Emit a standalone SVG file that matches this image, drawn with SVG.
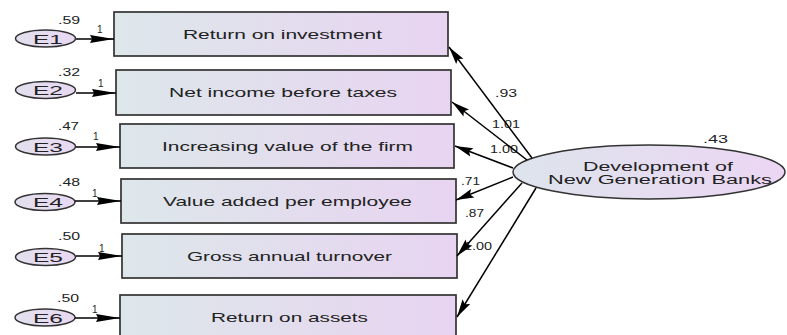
<svg xmlns="http://www.w3.org/2000/svg" width="787" height="335" viewBox="0 0 787 335">
  <defs>
    <linearGradient id="boxFill" x1="0" y1="0" x2="1" y2="0">
      <stop offset="0" stop-color="#dde7ea"/>
      <stop offset="1" stop-color="#e8d4f1"/>
    </linearGradient>
    <linearGradient id="latentFill" x1="0" y1="0" x2="1" y2="0">
      <stop offset="0" stop-color="#dde4ec"/>
      <stop offset="1" stop-color="#ecd6f3"/>
    </linearGradient>
    <linearGradient id="errFill" x1="0" y1="0" x2="1" y2="0">
      <stop offset="0" stop-color="#e2e0ee"/>
      <stop offset="1" stop-color="#e9d8f2"/>
    </linearGradient>
    <marker id="headErr" markerUnits="userSpaceOnUse" markerWidth="24" markerHeight="9" refX="24" refY="4.5" orient="auto" overflow="visible">
      <path d="M0,0.5 L24,4.5 L0,8.5 L2,4.5 Z" fill="#000"/>
    </marker>
    <marker id="headLoad" markerUnits="userSpaceOnUse" markerWidth="18" markerHeight="9" refX="18" refY="4.5" orient="auto" overflow="visible">
      <path d="M0,0 L18,4.5 L0,9 L3,4.5 Z" fill="#000"/>
    </marker>
  </defs>
  <style>
    .box { fill: url(#boxFill); stroke: #333; stroke-width: 1.7; }
    .err { fill: url(#errFill); stroke: #333; stroke-width: 1.5; }
    .latent { fill: url(#latentFill); stroke: #333; stroke-width: 1.5; }
    .lbl { font-family: "Liberation Sans", Arial, sans-serif; fill: #222; }
    .name { font-size: 13px; }
    .num { font-size: 10px; }
    .link { stroke: #000; stroke-width: 1.5; fill: none; }
    .errlink { marker-end: url(#headErr); }
    .loadlink { marker-end: url(#headLoad); }
  </style>

  <rect width="787" height="335" fill="#fff"/>

  <!-- observed indicators -->
  <g id="roi">
    <rect class="box" x="114" y="12" width="334" height="44"/>
    <text class="lbl name" x="183" y="39" textLength="199" lengthAdjust="spacingAndGlyphs">Return on investment</text>
  </g>
  <g id="net-income">
    <rect class="box" x="116" y="70" width="335" height="45"/>
    <text class="lbl name" x="169" y="97" textLength="228" lengthAdjust="spacingAndGlyphs">Net income before taxes</text>
  </g>
  <g id="firm-value">
    <rect class="box" x="120" y="124" width="334" height="44"/>
    <text class="lbl name" x="162" y="151" textLength="251" lengthAdjust="spacingAndGlyphs">Increasing value of the firm</text>
  </g>
  <g id="value-added">
    <rect class="box" x="121" y="179" width="335" height="44"/>
    <text class="lbl name" x="163" y="206" textLength="249" lengthAdjust="spacingAndGlyphs">Value added per employee</text>
  </g>
  <g id="turnover">
    <rect class="box" x="122" y="234" width="335" height="44"/>
    <text class="lbl name" x="187" y="261" textLength="205" lengthAdjust="spacingAndGlyphs">Gross annual turnover</text>
  </g>
  <g id="roa">
    <rect class="box" x="120" y="295" width="336" height="44"/>
    <text class="lbl name" x="211" y="322" textLength="157" lengthAdjust="spacingAndGlyphs">Return on assets</text>
  </g>

  <!-- error terms with variances -->
  <g id="e1">
    <ellipse class="err" cx="45.5" cy="38.5" rx="30" ry="8.5"/>
    <text class="lbl name" x="33" y="43.5" textLength="30" lengthAdjust="spacingAndGlyphs">E1</text>
    <text class="lbl num" x="58" y="24" textLength="22" lengthAdjust="spacingAndGlyphs">.59</text>
  </g>
  <g id="e2">
    <ellipse class="err" cx="45.5" cy="90" rx="30" ry="8.5"/>
    <text class="lbl name" x="33" y="95" textLength="30" lengthAdjust="spacingAndGlyphs">E2</text>
    <text class="lbl num" x="58" y="76" textLength="22" lengthAdjust="spacingAndGlyphs">.32</text>
  </g>
  <g id="e3">
    <ellipse class="err" cx="45.5" cy="146.5" rx="30" ry="8.5"/>
    <text class="lbl name" x="33" y="151.5" textLength="30" lengthAdjust="spacingAndGlyphs">E3</text>
    <text class="lbl num" x="58" y="130" textLength="21" lengthAdjust="spacingAndGlyphs">.47</text>
  </g>
  <g id="e4">
    <ellipse class="err" cx="45" cy="202" rx="30" ry="8.5"/>
    <text class="lbl name" x="33" y="207" textLength="30" lengthAdjust="spacingAndGlyphs">E4</text>
    <text class="lbl num" x="58" y="186" textLength="22" lengthAdjust="spacingAndGlyphs">.48</text>
  </g>
  <g id="e5">
    <ellipse class="err" cx="45.5" cy="257" rx="30" ry="8.5"/>
    <text class="lbl name" x="33" y="262" textLength="30" lengthAdjust="spacingAndGlyphs">E5</text>
    <text class="lbl num" x="58" y="240" textLength="22" lengthAdjust="spacingAndGlyphs">.50</text>
  </g>
  <g id="e6">
    <ellipse class="err" cx="45" cy="317.5" rx="30" ry="8.5"/>
    <text class="lbl name" x="33" y="322.5" textLength="30" lengthAdjust="spacingAndGlyphs">E6</text>
    <text class="lbl num" x="57" y="302" textLength="22" lengthAdjust="spacingAndGlyphs">.50</text>
  </g>

  <!-- latent factor -->
  <g id="development">
    <ellipse class="latent" cx="649" cy="172" rx="136" ry="27"/>
    <text class="lbl" font-size="12.5" x="583" y="170.5" textLength="150" lengthAdjust="spacingAndGlyphs">Development of</text>
    <text class="lbl" font-size="12.5" x="548" y="184" textLength="224" lengthAdjust="spacingAndGlyphs">New Generation Banks</text>
    <text class="lbl num" x="703" y="143" textLength="25" lengthAdjust="spacingAndGlyphs">.43</text>
  </g>

  <!-- path coefficients -->
  <g id="weights">
    <text class="lbl num" x="495" y="97" textLength="22" lengthAdjust="spacingAndGlyphs">.93</text>
    <text class="lbl num" x="492" y="128" textLength="28" lengthAdjust="spacingAndGlyphs">1.01</text>
    <text class="lbl num" x="490" y="153" textLength="28" lengthAdjust="spacingAndGlyphs">1.00</text>
    <text class="lbl num" x="461" y="185" textLength="19" lengthAdjust="spacingAndGlyphs">.71</text>
    <text class="lbl num" x="465" y="217" textLength="19" lengthAdjust="spacingAndGlyphs">.87</text>
    <text class="lbl num" x="464" y="250" textLength="28" lengthAdjust="spacingAndGlyphs">1.00</text>
    <text class="lbl num" x="97" y="33">1</text>
    <text class="lbl num" x="98" y="87">1</text>
    <text class="lbl num" x="93" y="140">1</text>
    <text class="lbl num" x="92" y="197">1</text>
    <text class="lbl num" x="99" y="252">1</text>
    <text class="lbl num" x="92" y="313">1</text>
  </g>

  <!-- connectors -->
  <g id="connectors">
    <line class="link errlink" x1="76" y1="39" x2="114" y2="39"/>
    <line class="link errlink" x1="76" y1="93" x2="116" y2="93"/>
    <line class="link errlink" x1="76" y1="147" x2="120" y2="147"/>
    <line class="link errlink" x1="75" y1="201" x2="121" y2="201"/>
    <line class="link errlink" x1="76" y1="256" x2="122" y2="256"/>
    <line class="link errlink" x1="75" y1="318" x2="120" y2="318"/>

    <line class="link loadlink" x1="532" y1="158" x2="449" y2="47"/>
    <line class="link loadlink" x1="527" y1="160" x2="452" y2="102"/>
    <line class="link loadlink" x1="513" y1="168" x2="455" y2="146"/>
    <line class="link loadlink" x1="513" y1="177" x2="456" y2="200"/>
    <line class="link loadlink" x1="522" y1="183" x2="457" y2="256"/>
    <line class="link loadlink" x1="536" y1="188" x2="457" y2="317"/>
  </g>
</svg>
